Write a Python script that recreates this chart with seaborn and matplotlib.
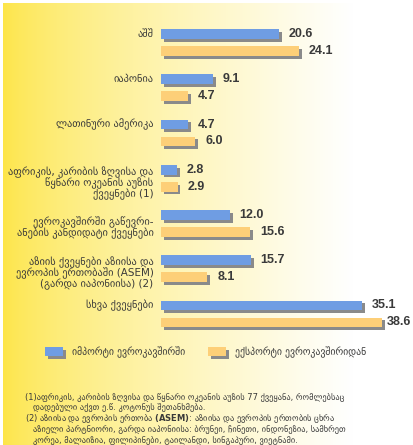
import numpy as np
import pandas as pd
import matplotlib
matplotlib.use('Agg')
import matplotlib.pyplot as plt
import matplotlib.patheffects as pe
from matplotlib.patches import Patch
import seaborn as sns

# Data
regions = [
    'აშშ',
    'იაპონია',
    'ლათინური ამერიკა',
    'აფრიკის, კარიბის ზღვისა და\nწყნარი ოკეანის აუზის\nქვეყნები (1)',
    'ევროკავშირში გაწევრი-\nანების კანდიდატი ქვეყნები',
    'აზიის ქვეყნები აზიისა და\nევროპის ერთობაში (ASEM)\n(გარდა იაპონიისა) (2)',
    'სხვა ქვეყნები',
]
imports_to_eu = [20.6, 9.1, 4.7, 2.8, 12.0, 15.7, 35.1]
exports_from_eu = [24.1, 4.7, 6.0, 2.9, 15.6, 8.1, 38.6]
series_names = ['იმპორტი ევროკავშირში', 'ექსპორტი ევროკავშირიდან']

footnote_1 = ['(1)აფრიკის, კარიბის ზღვისა და წყნარი ოკეანის აუზის 77 ქვეყანა, რომლებსაც',
              'დადებული აქვთ ე.წ. კოტონუს შეთანხმება.']
footnote_2 = ['(2) აზიისა და ევროპის ერთობა $\\mathbf{(ASEM)}$: აზიისა და ევროპის ერთობის ცხრა',
              'აზიელი პარტნიორი, გარდა იაპონიისა: ბრუნეი, ჩინეთი, ინდონეზია, სამხრეთ',
              'კორეა, მალაიზია, ფილიპინები, ტაილანდი, სინგაპური, ვიეტნამი.']

BLUE = '#6f9de3'
ORANGE = '#fdcf78'
SHADOW = '#8a8a8a'
TEXT = '#3a3a3a'

W, H = 414, 445

df = pd.DataFrame({
    'region': regions * 2,
    'value': imports_to_eu + exports_from_eu,
    'series': [series_names[0]] * len(regions) + [series_names[1]] * len(regions),
})

sns.set_style('white')
plt.rcParams['font.family'] = ['DejaVu Sans']
plt.rcParams['mathtext.fontset'] = 'dejavusans'

fig = plt.figure(figsize=(W / 100, H / 100), dpi=100)

# yellow -> white background gradient
bg = fig.add_axes([3 / W, 0, 1 - 3 / W, 1 - 3 / H])
t = np.linspace(0, 1, 400)
w = np.clip(t / 0.85, 0, 1) ** 0.7
yellow = np.array([253, 229, 70]) / 255
img = yellow[None, :] * (1 - w[:, None]) + w[:, None]
bg.imshow(img[None, :, :], aspect='auto', extent=[0, 1, 0, 1])
bg.axis('off')

# main bars
ax = fig.add_axes([161 / W, 1 - 336.6 / H, (405 - 161) / W, (336.6 - 19.9) / H])
ax.patch.set_alpha(0)
sns.barplot(data=df, y='region', x='value', hue='series', orient='h',
            palette=[BLUE, ORANGE], saturation=1, width=0.75, gap=0.42,
            legend=False, ax=ax)

shadow = [pe.SimplePatchShadow(offset=(2, -2), shadow_rgbFace=SHADOW, alpha=1), pe.Normal()]
for p in ax.patches:
    p.set_edgecolor('none')
    p.set_path_effects(shadow)

top = max(imports_to_eu + exports_from_eu)
for cont in ax.containers:
    anns = ax.bar_label(cont, fmt='%.1f', padding=7, fontsize=9, fontweight='bold',
                        color=TEXT, family='Liberation Sans')
    for ann, v in zip(anns, cont.datavalues):
        if v == top:
            ann.xyann = (3.5, 0)  # reference squeezes the longest one against the edge

ax.set_xlim(0, (405 - 161) / 5.73)
ax.set_ylim(len(regions) - 0.5, -0.5)
ax.axis('off')

for i, lab in enumerate(regions):
    y = i + 0.1 if '\n' in lab else i - 0.19
    ax.text(-1.3, y, lab, ha='right', va='center', fontsize=7.5, color=TEXT,
            linespacing=0.95)

# legend
handles = [Patch(facecolor=c, edgecolor='none', path_effects=shadow) for c in (BLUE, ORANGE)]
fig.legend(handles, series_names, loc='center left', bbox_to_anchor=(45 / W, 1 - 352 / H),
           ncol=2, frameon=False, fontsize=7, handlelength=1.85, handleheight=1.0,
           handletextpad=0.9, columnspacing=2.4, borderpad=0, borderaxespad=0,
           labelcolor=TEXT)

# footnotes
lines = [(footnote_1[0], 25)] + [(s, 33) for s in footnote_1[1:]] \
    + [(footnote_2[0], 25)] + [(s, 33) for s in footnote_2[1:]]
for k, (s, x0) in enumerate(lines):
    fig.text(x0 / W, 1 - (397 + 11 * k) / H, s, fontsize=6, color=TEXT, va='center')

fig.savefig('out.png', dpi=100)
